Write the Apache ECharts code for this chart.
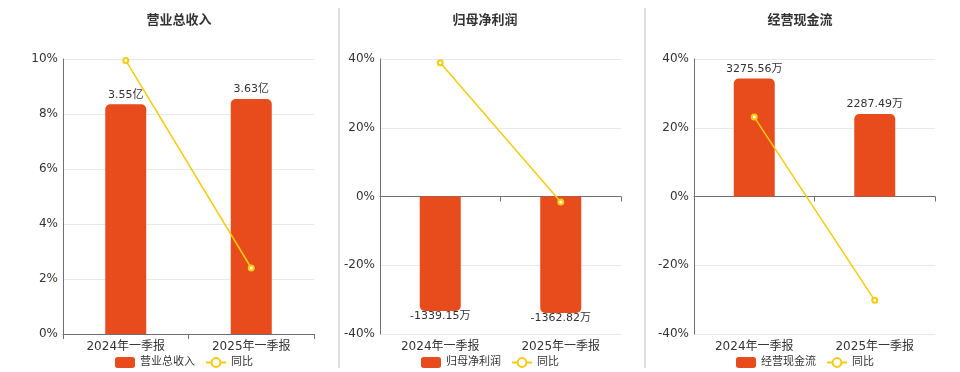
<!DOCTYPE html>
<html>
<head>
<meta charset="utf-8">
<script src="https://cdn.jsdelivr.net/npm/echarts@6/dist/echarts.min.js"></script>
<style>html,body{margin:0;padding:0;background:#fff;}#c{width:960px;height:372px;}</style>
</head>
<body>
<div id="c"></div>
<script>
var categories = ['2024年一季报', '2025年一季报'];
var revenue = [3.55, 3.63];          // 亿
var revenueYoY = [9.95, 2.4];        // %
var netProfit = [-1339.15, -1362.82]; // 万
var netProfitYoY = [38.9, -1.6];     // %
var cashFlow = [3275.56, 2287.49];   // 万
var cashFlowYoY = [23.1, -30.2];     // %
var titles = ['营业总收入', '归母净利润', '经营现金流'];

var FONT = "'DejaVu Sans', 'Noto Sans CJK SC', sans-serif";
var BAR = '#E84B1C', LINE = '#F3CC10', TXT = '#333';
var grids = [
  {left: 63, right: 646, top: 59, bottom: 38},
  {left: 380, right: 339, top: 59, bottom: 38},
  {left: 694, right: 25, top: 59, bottom: 38}
];
var pctAxes = [{min: 0, max: 10, interval: 2}, {min: -40, max: 40, interval: 20}, {min: -40, max: 40, interval: 20}];
var barAxes = [{min: 0, max: 4.25}, {min: -1609, max: 1609}, {min: -3818, max: 3818}];
var barData = [revenue, netProfit, cashFlow];
var lineData = [revenueYoY, netProfitYoY, cashFlowYoY];
var units = ['亿', '万', '万'];
var titleCenters = [174, 480, 795];
var legendLefts = [110, 416, 731];

var option = {
  animation: false,
  textStyle: {fontFamily: FONT},
  title: [], grid: grids, xAxis: [], yAxis: [], series: [], legend: [],
  graphic: [
    {type: 'line', shape: {x1: 339, y1: 8, x2: 339, y2: 368}, style: {stroke: '#d4d4d4', lineWidth: 1.5}},
    {type: 'line', shape: {x1: 645, y1: 8, x2: 645, y2: 368}, style: {stroke: '#d4d4d4', lineWidth: 1.5}}
  ]
};

for (var i = 0; i < 3; i++) {
  option.title.push({text: titles[i], left: titleCenters[i], top: 9, textAlign: 'center',
    textStyle: {fontSize: 13, fontWeight: 'bold', color: TXT, fontFamily: FONT}});
  option.xAxis.push({type: 'category', gridIndex: i, data: categories,
    axisLine: {onZero: true, lineStyle: {color: '#6E7079'}},
    axisTick: {show: true, lineStyle: {color: '#6E7079'}},
    axisLabel: {fontSize: 12, color: TXT, margin: 7, fontFamily: FONT}});
  option.yAxis.push({type: 'value', gridIndex: i, min: pctAxes[i].min, max: pctAxes[i].max, interval: pctAxes[i].interval,
    axisLine: {show: true, lineStyle: {color: '#6E7079'}},
    axisTick: {show: false},
    axisLabel: {fontSize: 12, color: TXT, formatter: '{value}%', margin: 5, fontFamily: FONT},
    splitLine: {lineStyle: {color: '#E6E9F2'}}});
  option.yAxis.push({type: 'value', gridIndex: i, min: barAxes[i].min, max: barAxes[i].max, show: false,
    splitLine: {show: false}});
  (function (u) {
    option.series.push({type: 'bar', name: titles[i], xAxisIndex: i, yAxisIndex: 2 * i + 1,
      barWidth: 41,
      data: barData[i].map(function (v) {
        return {value: v,
          itemStyle: {borderRadius: v >= 0 ? [5, 5, 0, 0] : [0, 0, 5, 5]},
          label: {position: v >= 0 ? 'top' : 'bottom', distance: v >= 0 ? 4 : 0}};
      }),
      itemStyle: {color: BAR},
      label: {show: true, fontSize: 11, color: TXT, fontFamily: FONT,
        formatter: function (p) { return p.value.toFixed(2) + u; }}});
  })(units[i]);
  option.series.push({type: 'line', name: '同比', xAxisIndex: i, yAxisIndex: 2 * i, data: lineData[i],
    symbol: 'emptyCircle', symbolSize: 5, z: 5,
    lineStyle: {color: LINE, width: 1.5}, itemStyle: {color: LINE}});
  option.legend.push({left: legendLefts[i], top: 352,
    data: [{name: titles[i], icon: 'roundRect'}, {name: '同比'}],
    itemWidth: 20, itemHeight: 11, itemGap: 10,
    textStyle: {fontSize: 11, color: TXT, fontFamily: FONT}});
}

var chart = echarts.init(document.getElementById('c'), null, {renderer: 'canvas'});
chart.setOption(option);
</script>
</body>
</html>
